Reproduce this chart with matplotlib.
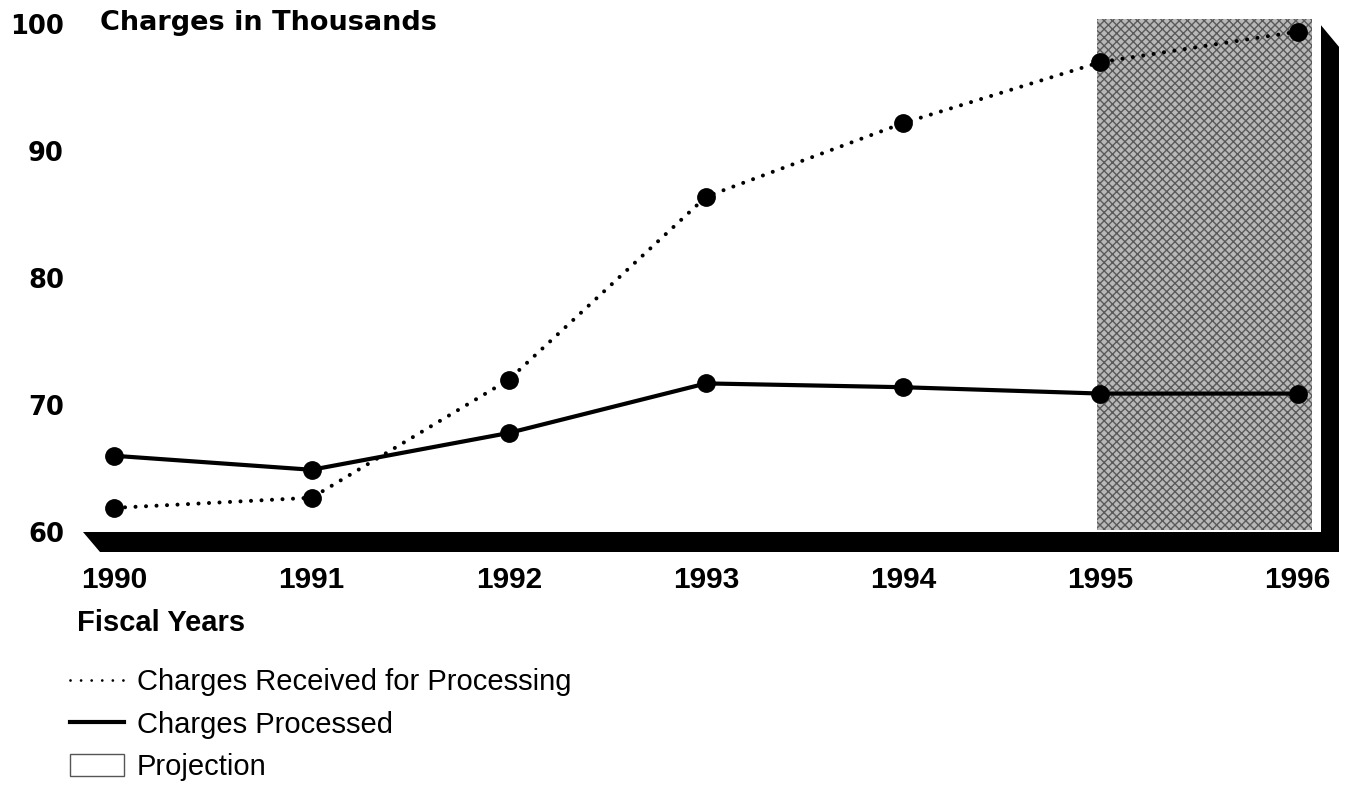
import matplotlib.pyplot as plt
import matplotlib.patches as patches
from matplotlib.lines import Line2D

years = [1990, 1991, 1992, 1993, 1994, 1995, 1996]
received = [61.9, 62.7, 72.0, 86.4, 92.2, 97.0, 99.4]
processed = [66.0, 64.9, 67.8, 71.7, 71.4, 70.9, 70.9]
y_ticks = [60, 70, 80, 90, 100]
projection_start, projection_end = 1995, 1996

W, H = 1346, 788
BOLD_WIDE = 'DejaVu Sans'
HELV = 'Liberation Sans'


def main():
    fig = plt.figure(figsize=(W / 100, H / 100), dpi=100)

    # axes box in pixels: left 75, right 1346, top 0, bottom 555
    ax = fig.add_axes([75 / W, 1 - 555 / H, 1271 / W, 555 / H])
    sx = 197.2   # pixels per year
    sy = 12.7    # pixels per thousand
    x0 = years[0] - (114.5 - 75) / sx
    ax.set_xlim(x0, x0 + 1271 / sx)
    ax.set_ylim(60 - 23 / sy, 60 + 532 / sy)
    for s in ax.spines.values():
        s.set_visible(False)

    px = 1 / sx
    py = 1 / sy

    # shaded projection area
    shade = patches.Rectangle((projection_start - 3 * px, 60 + 2 * py),
                              (projection_end - projection_start) + 17 * px, 40.2,
                              facecolor='#b8b8b8', edgecolor='#5a5a5a', hatch='xxxx',
                              linewidth=0, zorder=1)
    ax.add_patch(shade)

    # 3d style floor and right wall
    floor = patches.Polygon([(x0 + 8 * px, 60), (x0 + 1264 * px, 60),
                             (x0 + 1264 * px, 60 - 20 * py), (x0 + 25 * px, 60 - 20 * py)],
                            closed=True, facecolor='black', edgecolor='none', zorder=2)
    wall = patches.Polygon([(x0 + 1246 * px, 60 - 20 * py), (x0 + 1246 * px, 99.9),
                            (x0 + 1264 * px, 98.2), (x0 + 1264 * px, 60 - 20 * py)],
                           closed=True, facecolor='black', edgecolor='none', zorder=2)
    ax.add_patch(floor)
    ax.add_patch(wall)

    # the two series
    ax.plot(years, received, color='black', linewidth=2.9, linestyle=(0, (0.01, 2.6)),
            dash_capstyle='round', marker='o', markersize=12.5, zorder=4)
    ax.plot(years, processed, color='black', linewidth=3.0, linestyle='-',
            marker='o', markersize=12.5, zorder=4)

    ax.set_yticks(y_ticks)
    ax.set_yticklabels([str(v) for v in y_ticks], fontfamily=BOLD_WIDE,
                       fontweight='bold', fontsize=18.5)
    ax.set_xticks(years)
    ax.set_xticklabels([str(y) for y in years], fontfamily=HELV,
                       fontweight='bold', fontsize=21.5)
    ax.tick_params(axis='y', length=0, pad=8)
    ax.tick_params(axis='x', length=0, pad=8)

    fig.text(100 / W, 1 - 23 / H, 'Charges in Thousands', fontfamily=BOLD_WIDE,
             fontweight='bold', fontsize=19.5, va='center', ha='left')
    fig.text(77 / W, 1 - 623 / H, 'Fiscal Years', fontfamily=HELV,
             fontweight='bold', fontsize=21, va='center', ha='left')

    # legend
    handles = [
        Line2D([0], [0], color='black', linewidth=2.0, linestyle=(0, (0.01, 3.8)),
               dash_capstyle='round'),
        Line2D([0], [0], color='black', linewidth=3.0),
        patches.Patch(facecolor='white', edgecolor='#555555', linewidth=1.0),
    ]
    labels = ['Charges Received for Processing', 'Charges Processed', 'Projection']
    fig.legend(handles, labels, loc='upper left', bbox_to_anchor=(70 / W, 1 - 668 / H),
               frameon=False, borderpad=0, borderaxespad=0, handlelength=1.85,
               handleheight=0.75, handletextpad=0.45, labelspacing=0.5,
               prop={'family': HELV, 'size': 21})

    plt.savefig('out.png', dpi=100)


if __name__ == "__main__":
    main()
